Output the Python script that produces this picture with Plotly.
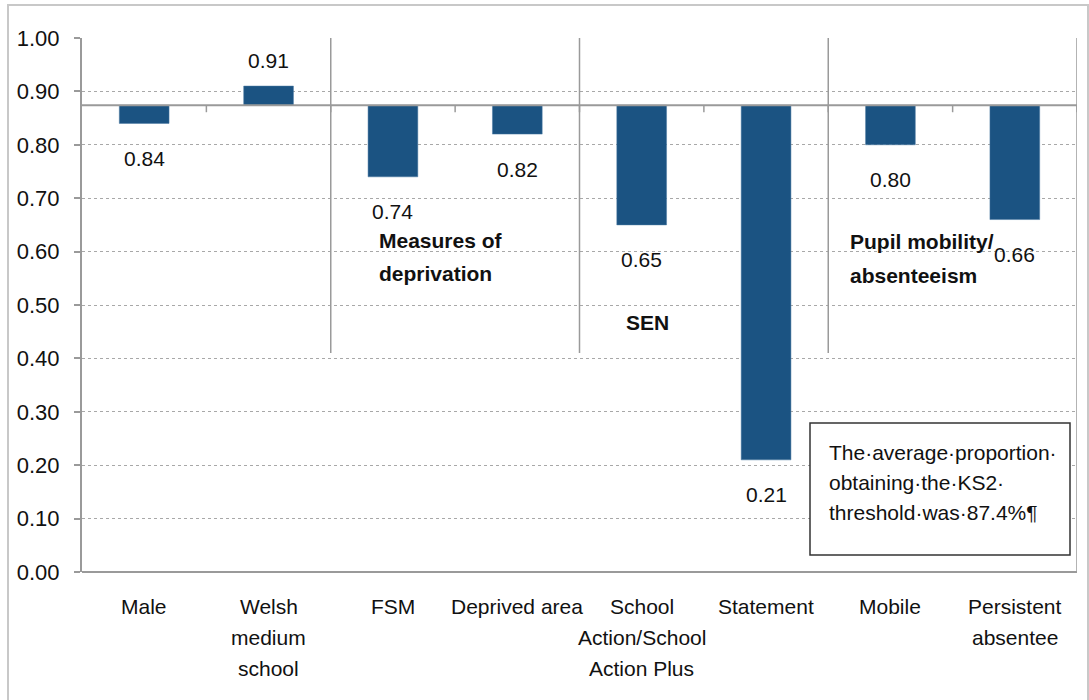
import plotly.graph_objects as go

# Pupil characteristics and the proportion reaching the KS2 threshold
categories = ["Male", "Welsh<br>medium<br>school", "FSM", "Deprived area",
              "School<br>Action/School<br>Action Plus", "Statement", "Mobile",
              "Persistent<br>absentee"]
values = [0.84, 0.91, 0.74, 0.82, 0.65, 0.21, 0.80, 0.66]
average = 0.874
y_ticks = [0.0, 0.1, 0.2, 0.3, 0.4, 0.5, 0.6, 0.7, 0.8, 0.9, 1.0]
y_tick_labels = ["0.00", "0.10", "0.20", "0.30", "0.40", "0.50",
                 "0.60", "0.70", "0.80", "0.90", "1.00"]
groups = ["Measures of<br>deprivation", "SEN", "Pupil mobility/<br>absenteeism"]
note = "The·average·proportion·<br>obtaining·the·KS2·<br>threshold·was·87.4%¶"

FONT = "Liberation Sans, Arial, sans-serif"
SIZE = 21
BAR = "#1b5382"
GREY = "#9a9a9a"
TXT = "#111111"

# plot area in pixels (used to place free text in paper coordinates)
PX_L, PX_R, PX_T, PX_B = 82, 1077, 38, 572


def px_x(px):
    return (px - PX_L) / (PX_R - PX_L)


def px_y(py):
    return (PX_B - py) / (PX_B - PX_T)


x = list(range(len(categories)))

fig = go.Figure()
fig.add_trace(go.Bar(
    x=x,
    y=[v - average for v in values],
    base=average,
    width=0.4,
    marker=dict(color=BAR, line=dict(color="#4d7aa3", width=0.5)),
    hoverinfo="skip",
))

annotations = []
font = dict(family=FONT, size=SIZE, color=TXT)

# value labels: above rising bars, below falling bars
for i, v in enumerate(values):
    above = v >= average
    annotations.append(dict(
        x=i, y=v, xref="x", yref="y", text=f"{v:.2f}", showarrow=False,
        yanchor="middle", yshift=26 if above else -35, font=font,
    ))

# category labels under the plot, one annotation per line
for i, c in enumerate(categories):
    for k, line in enumerate(c.split("<br>")):
        annotations.append(dict(
            x=i, y=px_y(606 + 31 * k), xref="x", yref="paper", text=line,
            showarrow=False, yanchor="middle", font=font,
        ))

# group headings
group_pos = [(377, 240, "left", 33), (647, 322, "center", 33), (848, 241, "left", 34)]
for (gx, gy, anchor, step), g in zip(group_pos, groups):
    for k, line in enumerate(g.split("<br>")):
        annotations.append(dict(
            x=px_x(gx), y=px_y(gy + step * k), xref="paper", yref="paper",
            text=f"<b>{line}</b>", showarrow=False, xanchor=anchor,
            yanchor="middle", font=font,
        ))

# note box text
for k, line in enumerate(note.split("<br>")):
    annotations.append(dict(
        x=px_x(827), y=px_y(452 + 30 * k), xref="paper", yref="paper", text=line,
        showarrow=False, xanchor="left", yanchor="middle", font=font,
    ))

shapes = [
    # outer frame
    dict(type="rect", xref="paper", yref="paper", x0=px_x(8), x1=px_x(1088),
         y0=px_y(712), y1=px_y(5), line=dict(color="#c8c8c8", width=2), layer="below"),
    # plot right border
    dict(type="line", xref="x", yref="y", x0=7.5, x1=7.5, y0=0, y1=1.0,
         line=dict(color=GREY, width=1.5)),
    # baseline at the average
    dict(type="line", xref="x", yref="y", x0=-0.5, x1=7.5, y0=average, y1=average,
         line=dict(color=GREY, width=2)),
    # note box
    dict(type="rect", xref="paper", yref="paper", x0=px_x(810), x1=px_x(1070),
         y0=px_y(555), y1=px_y(423), line=dict(color="#333333", width=1.5),
         fillcolor="white"),
]
# group separators
for sx in [1.5, 3.5, 5.5]:
    shapes.append(dict(type="line", xref="x", yref="y", x0=sx, x1=sx, y0=0.41, y1=1.01,
                       line=dict(color=GREY, width=1.5)))
# tick marks hanging from the baseline at category boundaries
for bx in [0.5, 1.5, 2.5, 3.5, 4.5, 5.5, 6.5, 7.5]:
    shapes.append(dict(type="line", xref="x", yref="y", x0=bx, x1=bx,
                       y0=average, y1=average - 0.013,
                       line=dict(color=GREY, width=1.5)))

fig.update_layout(
    width=1089, height=700,
    margin=dict(l=PX_L, r=1089 - PX_R, t=PX_T, b=700 - PX_B),
    paper_bgcolor="white", plot_bgcolor="white",
    showlegend=False,
    annotations=annotations,
    shapes=shapes,
    xaxis=dict(range=[-0.5, 7.5], showticklabels=False, showgrid=False,
               zeroline=False, showline=False, fixedrange=True),
    yaxis=dict(range=[0, 1.0], tickvals=y_ticks, ticktext=y_tick_labels,
               showgrid=True, gridcolor="#a8a8a8", griddash="dot", gridwidth=1,
               zeroline=True, zerolinecolor=GREY, zerolinewidth=2,
               showline=True, linecolor=GREY, linewidth=2,
               ticks="outside", ticklen=6, tickcolor=GREY, tickwidth=2,
               ticklabelstandoff=10,
               tickfont=dict(family=FONT, size=SIZE + 1, color=TXT)),
)

fig.write_html("out.html")
